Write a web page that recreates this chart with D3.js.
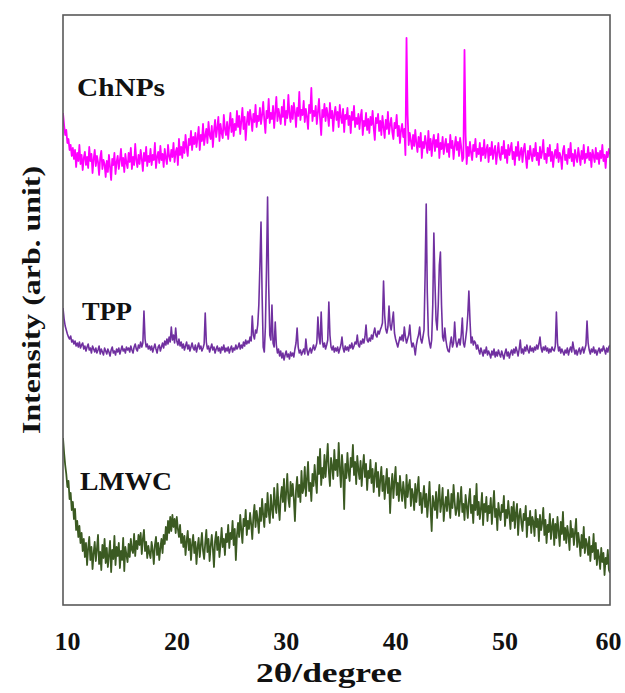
<!DOCTYPE html>
<html>
<head>
<meta charset="utf-8">
<script src="https://cdn.jsdelivr.net/npm/d3@7"></script>
<style>
  html, body { margin: 0; padding: 0; background: #fff; }
  svg { display: block; }
</style>
</head>
<body>
<div id="chart"></div>
<script>
// ---------------- data ----------------
// 2θ grid: 10.0° to 60.0°, 0.1° step
const angleStart = 10;
const angleStep = 0.1;
const xTickValues = [10, 20, 30, 40, 50, 60];
const seriesNames = ["ChNPs", "TPP", "LMWC"];

// intensities (arb. unit, curves already stacked with offsets)
const chnps = [
 492,480,470,475,462,466,455,460,449,457,
 446,455,438,452,444,460,441,450,435,447,
 453,440,448,437,458,444,451,432,446,455,
 439,449,443,430,447,454,436,445,441,428,
 444,433,450,438,425,446,440,452,431,443,
 449,436,445,456,439,447,433,451,442,437,
 452,443,457,436,448,440,461,445,438,450,
 441,455,446,434,452,444,458,439,449,443,
 456,440,450,445,462,437,448,453,442,459,
 445,451,438,456,447,441,460,449,444,455,
 448,462,443,453,457,440,466,450,458,447,
 463,452,470,457,449,466,460,474,455,468,
 461,472,458,467,478,455,470,464,481,460,
 469,476,462,483,470,466,479,458,474,485,
 468,477,488,464,481,472,467,490,476,470,
 483,466,479,492,473,486,469,481,475,494,
 478,489,471,484,497,476,488,465,482,493,
 480,495,486,474,491,483,500,478,489,484,
 497,481,490,503,485,472,494,487,506,482,
 492,486,499,477,493,508,484,496,489,481,
 498,488,505,480,494,487,510,491,483,499,
 486,502,493,478,497,489,513,485,495,490,
 504,483,496,488,476,500,492,517,484,494,
 489,499,481,493,506,486,470,495,488,501,
 484,497,490,479,502,487,494,474,491,498,
 485,493,478,500,488,482,496,473,490,486,
 497,480,489,472,493,485,499,478,487,481,
 491,476,488,495,470,484,479,492,475,486,
 472,488,480,494,477,465,487,482,491,474,
 484,470,489,478,467,485,476,493,471,480,
 487,473,466,482,477,490,469,479,462,475,
 481,468,476,450,567,490,460,472,464,456,
 470,459,475,462,453,468,458,472,447,463,
 457,469,461,452,474,455,466,449,463,470,
 454,465,458,471,447,462,456,468,451,460,
 466,453,461,448,470,457,464,446,459,468,
 455,463,449,467,458,444,447,555,470,441,
 458,449,463,452,445,460,454,466,448,456,
 451,462,444,457,450,465,447,455,460,443,
 457,450,463,446,454,459,441,452,462,449,
 445,458,451,464,447,455,442,460,450,456,
 462,446,453,440,458,449,463,445,452,457,
 443,455,461,448,437,454,446,459,450,444,
 456,449,462,445,452,440,458,447,453,465,
 446,451,442,457,449,460,444,453,438,450,
 455,447,461,443,452,448,436,454,459,445,
 450,441,456,447,462,444,451,439,455,448,
 443,457,449,440,454,446,460,442,451,447,
 458,445,452,438,455,449,443,457,446,452,
 441,454,447,460,444,450,437,453,448,456,
 451
];

const tpp = [
 297,286,279,275,271,268,266,269,263,265,
 261,264,259,262,258,263,257,260,262,256,
 259,254,258,261,255,257,252,259,256,253,
 257,252,255,259,251,256,253,250,257,254,
 251,256,253,249,255,258,252,254,250,256,
 253,257,251,255,259,254,256,252,258,255,
 257,253,259,255,252,258,261,256,254,260,
 257,263,258,262,294,266,258,261,256,259,
 255,259,253,257,261,256,252,258,260,254,
 258,262,257,264,260,266,261,268,263,278,
 265,270,262,277,264,260,266,259,263,257,
 261,255,259,263,256,260,254,258,262,257,
 255,260,253,258,262,256,259,254,257,261,
 292,263,256,259,253,257,261,255,258,252,
 256,259,254,257,252,258,255,260,253,257,
 254,258,252,256,259,253,257,255,260,256,
 258,262,256,260,257,263,259,265,261,264,
 262,268,264,289,270,266,275,272,280,300,
 340,383,310,258,253,278,335,408,320,270,
 265,300,262,258,283,260,252,256,249,254,
 247,252,245,250,254,248,251,246,253,249,
 252,248,256,262,277,258,252,255,250,253,
 256,251,266,255,250,254,257,252,256,260,
 255,258,262,288,268,261,293,264,258,262,
 256,260,265,303,270,258,255,259,253,257,
 254,258,252,256,260,268,257,253,259,255,
 258,254,260,257,262,256,259,263,261,270,
 260,258,264,261,266,262,268,280,265,263,
 267,264,270,266,272,277,270,268,274,271,
 275,278,282,324,290,276,272,278,299,280,
 275,284,293,272,266,262,258,263,268,265,
 270,264,278,268,262,266,270,280,265,258,
 262,258,250,260,266,270,278,266,262,268,
 275,330,401,312,270,262,257,265,300,372,
 322,285,275,300,340,353,300,268,264,277,
 265,258,254,253,262,268,258,262,283,265,
 258,262,266,260,270,287,262,258,266,275,
 290,314,285,262,268,260,264,262,256,260,
 255,251,257,253,249,255,252,258,250,254,
 251,247,254,250,256,248,253,249,255,251,
 248,254,250,246,252,256,249,253,247,252,
 255,250,256,252,258,254,249,256,265,252,
 256,251,258,254,260,255,252,259,254,257,
 253,258,255,260,256,261,268,257,253,258,
 255,259,254,257,252,256,253,258,255,254,
 259,293,262,254,258,252,256,253,250,255,
 252,257,250,255,258,253,263,256,251,255,
 250,254,257,251,255,258,252,256,260,284,
 262,255,251,256,253,258,252,255,250,254,
 257,252,256,254,259,255,251,257,253,258,
 260
];

const lmwc = [
 167,152,140,131,118,124,106,112,95,103,
 86,96,75,84,68,79,62,72,54,66,
 48,62,40,57,68,45,58,36,52,63,
 44,56,70,41,53,35,60,47,66,42,
 57,38,50,64,33,55,46,69,40,58,
 49,62,37,54,45,67,34,58,50,43,
 61,48,66,55,52,71,49,64,56,70,
 60,72,51,66,75,54,63,47,59,52,
 47,63,55,41,60,68,50,62,45,57,
 66,52,70,61,78,65,84,72,88,74,
 90,78,86,72,88,76,68,80,62,71,
 58,69,50,64,74,55,66,45,61,70,
 52,63,41,58,67,48,60,72,54,46,
 62,75,53,66,44,59,70,56,38,64,
 73,55,68,48,61,77,58,66,50,71,
 63,80,57,72,66,84,60,76,45,70,
 82,68,90,75,62,86,79,95,70,84,
 76,92,81,66,88,100,78,94,85,72,
 97,84,106,90,78,101,88,112,93,82,
 110,96,87,117,101,92,121,99,85,108,
 118,103,126,94,112,131,106,98,123,109,
 121,106,84,115,128,108,120,103,134,112,
 117,138,109,126,143,114,122,104,131,119,
 140,125,112,148,131,156,120,137,127,150,
 128,144,161,133,119,147,139,126,155,135,
 145,129,162,137,118,150,134,96,141,127,
 152,133,124,147,138,160,130,143,121,149,
 135,126,144,119,137,150,128,141,115,134,
 127,145,122,136,113,130,142,118,133,109,
 125,138,114,129,106,121,136,112,127,92,
 118,131,107,124,138,110,122,104,129,115,
 104,123,112,97,130,108,119,125,99,116,
 110,95,121,103,116,128,100,112,92,107,
 119,98,111,88,104,123,96,74,109,101,
 95,113,87,106,120,93,102,117,84,99,
 108,94,115,100,87,111,97,120,103,90,
 96,112,89,104,118,93,101,85,110,99,
 87,105,116,92,100,82,109,95,121,90,
 103,86,97,112,80,101,93,108,84,99,
 92,107,81,98,114,88,96,75,102,91,
 85,100,93,109,79,95,87,104,90,76,
 98,84,103,77,92,101,70,89,96,82,
 74,91,85,99,68,87,80,94,72,88,
 83,69,95,78,86,64,90,75,82,97,
 70,85,62,80,73,91,66,78,86,60,
 81,67,88,74,59,83,71,93,65,77,
 62,79,70,55,84,68,76,60,73,86,
 58,72,63,49,70,57,78,52,66,61,
 50,68,44,59,53,71,46,62,40,55,
 48,36,57,43,52,30,47,41,55,35,
 32
];

// ---------------- chart ----------------
const W = 625, H = 693;
const M = { left: 63, right: 15, top: 15, bottom: 88 };
const serif = "'Liberation Serif', 'Times New Roman', serif";

const svg = d3.select("#chart").append("svg")
  .attr("width", W).attr("height", H);

const x = d3.scaleLinear().domain([10, 60]).range([M.left, W - M.right]);
const y = d3.scaleLinear().domain([0, 590]).range([H - M.bottom, M.top]);

const series = [
  { name: seriesNames[0], values: chnps, color: "#ff00ff", sw: 1.8, lx: 77, ly: 96, lw: 88 },
  { name: seriesNames[1], values: tpp,   color: "#7030a0", sw: 1.6, lx: 82, ly: 320, lw: 50 },
  { name: seriesNames[2], values: lmwc,  color: "#3b5a22", sw: 1.8, lx: 80, ly: 490, lw: 92 }
];

const line = d3.line()
  .x((d, i) => x(angleStart + i * angleStep))
  .y(d => y(d));

svg.append("defs").append("clipPath").attr("id", "clip")
  .append("rect")
  .attr("x", x(10)).attr("y", y(590))
  .attr("width", x(60) - x(10)).attr("height", y(0) - y(590));

const g = svg.append("g").attr("clip-path", "url(#clip)");
series.forEach(s => {
  g.append("path")
    .datum(s.values)
    .attr("fill", "none")
    .attr("stroke", s.color)
    .attr("stroke-width", s.sw)
    .attr("stroke-linejoin", "round")
    .attr("d", line);
});

// frame
svg.append("rect")
  .attr("x", x(10)).attr("y", y(590))
  .attr("width", x(60) - x(10)).attr("height", y(0) - y(590))
  .attr("fill", "none")
  .attr("stroke", "#595959")
  .attr("stroke-width", 1.6);

// x axis labels
const xAxis = d3.axisBottom(x).tickValues(xTickValues).tickSize(0).tickPadding(27)
  .tickFormat(d3.format("d"));
const ax = svg.append("g")
  .attr("transform", `translate(0,${y(0)})`)
  .call(xAxis);
ax.select(".domain").remove();
ax.selectAll("text")
  .attr("dx", d => d === 60 ? -2 : 4)
  .style("font-family", serif)
  .style("font-weight", "bold")
  .style("font-size", "26px")
  .attr("fill", "#111");

// axis titles
svg.append("text")
  .attr("x", 329).attr("y", 682)
  .attr("text-anchor", "middle")
  .attr("textLength", 146)
  .attr("lengthAdjust", "spacingAndGlyphs")
  .style("font-family", serif)
  .style("font-weight", "bold")
  .style("font-size", "27px")
  .attr("fill", "#111")
  .text("2θ/degree");

svg.append("text")
  .attr("transform", "translate(40,300) rotate(-90)")
  .attr("text-anchor", "middle")
  .attr("textLength", 268)
  .attr("lengthAdjust", "spacingAndGlyphs")
  .style("font-family", serif)
  .style("font-weight", "bold")
  .style("font-size", "26px")
  .attr("fill", "#111")
  .text("Intensity (arb. unit)");

// series labels
series.forEach(s => {
  svg.append("text")
    .attr("x", s.lx).attr("y", s.ly)
    .attr("textLength", s.lw)
    .attr("lengthAdjust", "spacingAndGlyphs")
    .style("font-family", serif)
    .style("font-weight", "bold")
    .style("font-size", "26px")
    .attr("fill", "#111")
    .text(s.name);
});
</script>
</body>
</html>
